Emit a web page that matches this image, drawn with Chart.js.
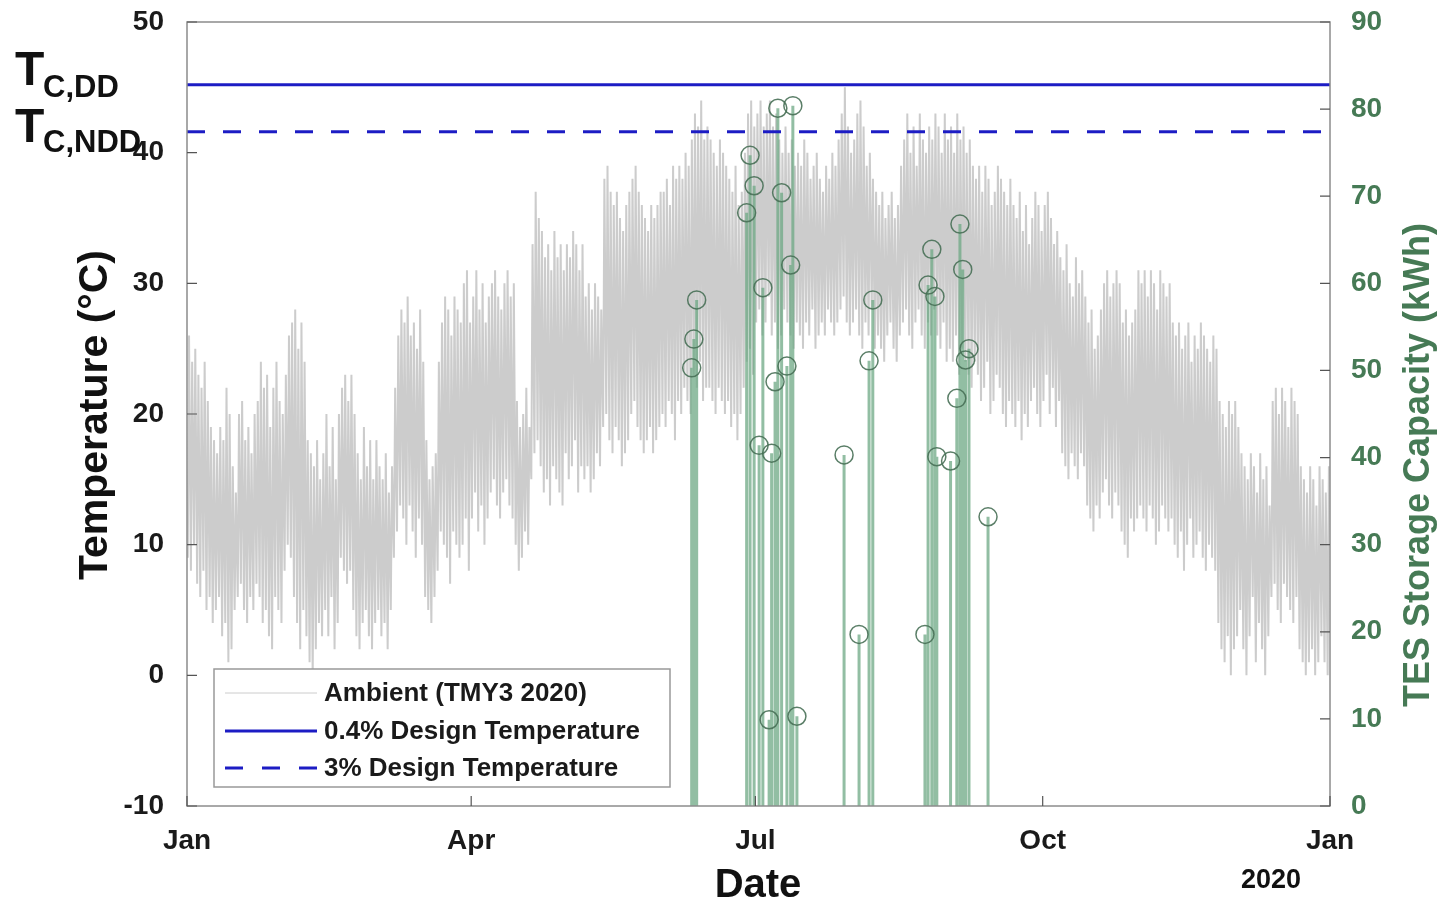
<!DOCTYPE html>
<html>
<head>
<meta charset="utf-8">
<title>Ambient temperature and TES storage capacity</title>
<script src="https://cdn.jsdelivr.net/npm/chart.js@4.4.1/dist/chart.umd.min.js"></script>
<style>
  html, body { margin: 0; padding: 0; background: #fff; }
  #wrap { width: 1442px; height: 904px; position: relative; }
</style>
</head>
<body>
<div id="wrap"><canvas id="tesChart"></canvas></div>
<script>
// x axis: day of year 2020 (leap year, 366 days)
const xTickDays = [0, 91, 182, 274, 366];
const xTickLabels = ['Jan', 'Apr', 'Jul', 'Oct', 'Jan'];

// daily max / min ambient temperature (°C), one row per month
const dailyHigh = [
  26,24,25,23,22,24,21,19,18,17,19,18,22,20,16,14,20,21,18,19,17,20,21,24,22,23,19,22,24,21,20,
  23,26,27,28,25,27,24,18,17,16,18,15,17,20,16,19,15,20,22,23,21,23,20,17,15,19,16,18,15,
  18,16,15,17,14,16,22,26,28,27,29,26,27,25,28,24,18,15,16,17,24,27,29,28,26,29,28,27,30,31,27,
  29,31,28,30,27,29,30,31,29,28,30,31,29,30,21,19,20,22,19,33,37,35,34,32,33,31,34,32,33,31,
  33,32,34,33,31,33,29,30,28,30,29,28,38,39,37,36,37,35,34,36,37,38,39,37,36,35,34,36,35,36,37,
  37,38,36,39,38,39,38,40,39,41,43,42,44,41,42,41,40,39,41,40,39,38,37,39,36,37,40,43,44,42,
  43,44,42,43,44,42,43,41,40,42,40,41,39,40,39,41,40,38,39,40,38,37,39,38,40,39,41,43,45,42,40,
  41,43,44,42,39,40,38,37,36,37,35,36,37,35,36,39,41,43,40,42,39,43,41,40,42,41,43,42,40,43,41,
  42,40,43,41,42,40,41,39,38,39,37,39,38,36,37,39,38,37,36,38,36,35,37,34,36,33,35,37,36,34,
  36,37,35,33,34,32,31,33,30,29,32,30,31,29,27,28,25,26,28,30,31,29,30,31,30,27,28,26,27,28,31,
  30,31,29,31,30,28,31,30,29,30,27,26,27,25,26,27,24,26,25,27,26,25,24,26,25,21,20,19,21,20,
  21,19,17,16,15,17,16,14,17,15,16,13,21,22,20,22,21,19,22,21,20,16,15,14,16,15,13,16,15,14,16
];
const dailyLow = [
  9,8,10,7,6,8,5,6,4,5,6,3,4,1,2,5,6,7,5,4,6,5,7,6,4,5,3,2,6,5,4,
  8,10,9,6,4,2,5,3,1,0,2,4,3,5,3,6,2,4,9,8,7,8,5,3,2,4,5,3,2,
  4,5,3,4,2,5,9,11,13,12,10,13,11,9,12,10,6,5,4,6,8,11,10,9,7,11,10,9,10,12,8,
  12,14,11,13,10,12,14,15,13,12,14,15,13,12,10,8,9,11,10,15,17,18,16,14,15,13,16,15,14,13,
  17,15,16,18,14,16,15,16,14,15,17,16,19,20,18,17,19,18,16,17,18,20,21,19,18,17,18,19,17,18,19,
  20,19,21,20,18,21,20,22,21,20,23,22,24,21,22,22,21,20,22,21,20,21,19,20,18,20,22,24,25,23,
  27,28,26,27,29,26,27,25,26,28,27,26,25,27,26,25,27,26,28,25,26,27,26,28,27,26,27,28,29,27,26,
  27,28,26,25,27,26,28,25,26,25,24,26,27,25,24,26,27,28,26,25,27,28,26,25,27,26,28,26,25,27,24,
  25,24,26,23,25,24,23,22,24,23,21,22,24,20,21,23,22,20,19,21,20,19,21,18,20,19,21,22,20,19,
  21,23,20,22,19,21,17,16,15,17,16,15,17,16,13,12,11,13,12,14,15,13,12,14,13,11,10,9,12,11,12,
  13,12,11,13,12,10,11,13,12,11,12,10,9,11,8,10,12,9,10,11,9,8,10,9,8,4,2,1,3,0,
  2,3,5,2,0,3,6,1,4,2,0,3,6,7,5,4,7,6,5,4,6,2,1,0,1,2,0,1,3,1,0
];

// design temperatures (°C)
const designTemp04 = 45.2;
const designTemp3 = 41.6;

// TES storage capacity events: day of year and capacity (kWh)
const tesDays = [161.6, 162.3, 163.2, 179.2, 180.3, 181.6, 183.2, 184.4, 186.4, 187.2, 188.3,
  189.2, 190.4, 192.1, 193.3, 194.0, 195.3, 210.4, 215.2, 218.4, 219.6, 236.3, 237.3, 238.5,
  239.5, 240.1, 244.5, 246.5, 247.5, 248.4, 249.3, 250.4, 256.5];
const tesValues = [50.3, 53.6, 58.1, 68.1, 74.7, 71.2, 41.4, 59.5, 9.9, 40.5, 48.7,
  80.1, 70.4, 50.5, 62.1, 80.4, 10.3, 40.3, 19.7, 51.1, 58.1, 19.7, 59.8, 63.9,
  58.5, 40.1, 39.6, 46.8, 66.8, 61.6, 51.2, 52.5, 33.2];

const FONT = "'Liberation Sans', Arial, Helvetica, sans-serif";
const BLUE = '#1c1cc4';
const GREEN_TEXT = '#467a55';
const AMBIENT_GRAY = '#cccccc';
const AXIS_GRAY = '#8c8c8c';

const ambientPoints = [];
dailyHigh.forEach((hi, i) => {
  ambientPoints.push({ x: i + 0.25, y: dailyLow[i] });
  ambientPoints.push({ x: i + 0.65, y: hi });
});

const stemPoints = [];
tesDays.forEach((d, i) => {
  stemPoints.push({ x: d, y: 0 }, { x: d, y: tesValues[i] }, { x: d, y: null });
});
const markerPoints = tesDays.map((d, i) => ({ x: d, y: tesValues[i] }));

// keep the plot box where the reference has it
function noOverhang(scale) {
  scale.paddingTop = 0;
  scale.paddingBottom = 0;
  scale.paddingLeft = 0;
  scale.paddingRight = 0;
}

// box, inward ticks, legend and free text (MATLAB look)
const decorPlugin = {
  id: 'decor',
  afterDatasetsDraw(chart) {
    const { ctx, chartArea: a, scales } = chart;
    ctx.save();
    ctx.strokeStyle = AXIS_GRAY;
    ctx.lineWidth = 1.5;
    ctx.strokeRect(a.left, a.top, a.right - a.left, a.bottom - a.top);

    ctx.strokeStyle = '#555';
    ctx.lineWidth = 1.2;
    ctx.beginPath();
    scales.y.ticks.forEach(t => {
      const py = scales.y.getPixelForValue(t.value);
      ctx.moveTo(a.left, py); ctx.lineTo(a.left + 10, py);
    });
    scales.y2.ticks.forEach(t => {
      const py = scales.y2.getPixelForValue(t.value);
      ctx.moveTo(a.right, py); ctx.lineTo(a.right - 10, py);
    });
    xTickDays.forEach(d => {
      const px = scales.x.getPixelForValue(d);
      ctx.moveTo(px, a.bottom); ctx.lineTo(px, a.bottom - 10);
    });
    ctx.stroke();

    // legend box
    const lx = 214, ly = 669, lw = 456, lh = 118;
    ctx.fillStyle = '#fff';
    ctx.fillRect(lx, ly, lw, lh);
    ctx.strokeStyle = '#999';
    ctx.lineWidth = 1.5;
    ctx.strokeRect(lx, ly, lw, lh);

    const rows = [
      { y: 693, color: AMBIENT_GRAY, width: 1, dash: [], text: 'Ambient (TMY3 2020)' },
      { y: 731, color: BLUE, width: 3, dash: [], text: '0.4% Design Temperature' },
      { y: 768, color: BLUE, width: 3, dash: [18, 19], text: '3% Design Temperature' }
    ];
    rows.forEach(r => {
      ctx.beginPath();
      ctx.strokeStyle = r.color;
      ctx.lineWidth = r.width;
      ctx.setLineDash(r.dash);
      ctx.moveTo(225, r.y); ctx.lineTo(317, r.y);
      ctx.stroke();
      ctx.setLineDash([]);
      ctx.fillStyle = '#1a1a1a';
      ctx.font = 'bold 26px ' + FONT;
      ctx.textAlign = 'left';
      ctx.textBaseline = 'middle';
      ctx.fillText(r.text, 324, r.y + 1);
    });
    ctx.restore();
  },
  afterDraw(chart) {
    const { ctx } = chart;
    ctx.save();
    ctx.fillStyle = '#111';
    ctx.textBaseline = 'alphabetic';
    ctx.textAlign = 'left';
    ctx.font = 'bold 48px ' + FONT;
    ctx.fillText('T', 15, 85);
    ctx.fillText('T', 15, 142);
    ctx.font = 'bold 31px ' + FONT;
    ctx.fillText('C,DD', 43, 97);
    ctx.fillText('C,NDD', 43, 152);

    ctx.font = 'bold 40px ' + FONT;
    ctx.textAlign = 'center';
    ctx.textBaseline = 'middle';
    ctx.fillText('Date', 758, 886);

    ctx.font = 'bold 27px ' + FONT;
    ctx.fillText('2020', 1271, 881);

    ctx.save();
    ctx.translate(96, 415);
    ctx.rotate(-Math.PI / 2);
    ctx.font = 'bold 41px ' + FONT;
    ctx.fillText('Temperature (°C)', 0, 0);
    ctx.restore();

    ctx.save();
    ctx.translate(1419, 465);
    ctx.rotate(-Math.PI / 2);
    ctx.fillStyle = GREEN_TEXT;
    ctx.font = 'bold 36px ' + FONT;
    ctx.fillText('TES Storage Capacity (kWh)', 0, 0);
    ctx.restore();
    ctx.restore();
  }
};

const ctx = document.getElementById('tesChart').getContext('2d');
new Chart(ctx, {
  type: 'line',
  data: {
    datasets: [
      {
        label: 'Ambient (TMY3 2020)',
        data: ambientPoints,
        borderColor: AMBIENT_GRAY,
        borderWidth: 2,
        pointRadius: 0,
        yAxisID: 'y',
        order: 5
      },
      {
        label: 'TES storage',
        data: stemPoints,
        borderColor: 'rgba(110,168,132,0.75)',
        borderWidth: 3,
        pointRadius: 0,
        spanGaps: false,
        yAxisID: 'y2',
        order: 4
      },
      {
        label: 'TES markers',
        data: markerPoints,
        showLine: false,
        pointRadius: 9,
        pointStyle: 'circle',
        pointBackgroundColor: 'rgba(0,0,0,0)',
        pointBorderColor: 'rgba(72,112,86,0.9)',
        pointBorderWidth: 1.5,
        yAxisID: 'y2',
        order: 3
      },
      {
        label: '0.4% Design Temperature',
        data: [{ x: 0, y: designTemp04 }, { x: 366, y: designTemp04 }],
        borderColor: BLUE,
        borderWidth: 3,
        pointRadius: 0,
        yAxisID: 'y',
        order: 2
      },
      {
        label: '3% Design Temperature',
        data: [{ x: 0, y: designTemp3 }, { x: 366, y: designTemp3 }],
        borderColor: BLUE,
        borderWidth: 3,
        borderDash: [18, 18],
        pointRadius: 0,
        yAxisID: 'y',
        order: 1
      }
    ]
  },
  options: {
    responsive: true,
    maintainAspectRatio: false,
    animation: false,
    layout: { padding: { top: 22, left: 0, right: 0, bottom: 0 } },
    plugins: {
      legend: { display: false },
      tooltip: { enabled: false }
    },
    scales: {
      x: {
        type: 'linear',
        min: 0,
        max: 366,
        grid: { display: false },
        border: { display: false },
        afterBuildTicks: axis => { axis.ticks = xTickDays.map(v => ({ value: v })); },
        afterFit: scale => { scale.height = 98; noOverhang(scale); },
        ticks: {
          autoSkip: false,
          maxRotation: 0,
          padding: 10,
          color: '#1a1a1a',
          font: { family: FONT, size: 28, weight: 'bold' },
          callback: (value, index) => xTickLabels[index]
        }
      },
      y: {
        position: 'left',
        min: -10,
        max: 50,
        grid: { display: false },
        border: { display: false },
        afterFit: scale => { scale.width = 187; noOverhang(scale); },
        ticks: {
          stepSize: 10,
          padding: 15,
          color: '#1a1a1a',
          font: { family: FONT, size: 28, weight: 'bold' }
        }
      },
      y2: {
        position: 'right',
        min: 0,
        max: 90,
        grid: { display: false },
        border: { display: false },
        afterFit: scale => { scale.width = 112; noOverhang(scale); },
        ticks: {
          stepSize: 10,
          padding: 13,
          color: GREEN_TEXT,
          font: { family: FONT, size: 28, weight: 'bold' }
        }
      }
    }
  },
  plugins: [decorPlugin]
});
</script>
</body>
</html>
